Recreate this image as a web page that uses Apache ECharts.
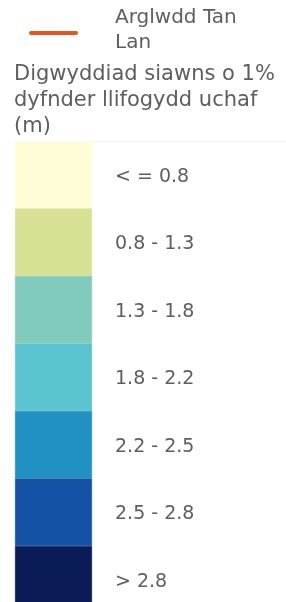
<!DOCTYPE html>
<html>
<head>
<meta charset="utf-8">
<script src="https://cdn.jsdelivr.net/npm/echarts@6/dist/echarts.min.js"></script>
<style>
  html, body { margin: 0; padding: 0; background: #fff; }
  #main { width: 286px; height: 602px; }
</style>
</head>
<body>
<div id="main"></div>
<script>
// dosbarthiadau dyfnder (m)
const categories = ['< = 0.8', '0.8 - 1.3', '1.3 - 1.8', '1.8 - 2.2', '2.2 - 2.5', '2.5 - 2.8', '> 2.8'];
const bandColors = ['#fffdd8', '#d8e193', '#80cbbb', '#5bc2cf', '#2191c3', '#1452a6', '#0a1b55'];
const bandValues = [1, 1, 1, 1, 1, 1, 1];
const lineName = 'Arglwdd Tan\nLan';
const titleText = 'Digwyddiad siawns o 1%\ndyfnder llifogydd uchaf\n(m)';

var myChart = echarts.init(document.getElementById('main'));

var font = 'DejaVu Sans';
var textColor = '#5e5e5e';

var option = {
  backgroundColor: '#fff',
  animation: false,
  title: {
    text: titleText,
    left: 9,
    top: 57,
    textStyle: { fontFamily: font, fontSize: 21, fontWeight: 'normal', color: textColor, lineHeight: 26 }
  },
  grid: { left: 15, top: 141, width: 77, height: 472.5, outerBoundsMode: 'none' },
  xAxis: { type: 'value', min: 0, max: 1, show: false },
  yAxis: { type: 'category', data: categories, inverse: true, show: false },
  graphic: [
    {
      type: 'line',
      shape: { x1: 31, y1: 33, x2: 76, y2: 33 },
      style: { stroke: '#e8531f', lineWidth: 4, lineCap: 'round' }
    },
    {
      type: 'text',
      left: 115, top: 5,
      style: { text: lineName, fontFamily: font, fontSize: 20, fill: textColor, lineHeight: 25 }
    },
    {
      type: 'line',
      shape: { x1: 92, y1: 141.5, x2: 286, y2: 141.5 },
      style: { stroke: '#f2f2f2', lineWidth: 1 }
    }
  ],
  series: [
    {
      type: 'bar',
      data: bandValues.map(function (v, i) {
        return { value: v, itemStyle: { color: bandColors[i], borderWidth: 0.5, borderColor: bandColors[i] } };
      }),
      barWidth: '100%',
      barCategoryGap: 0,
      label: {
        show: true,
        position: 'right',
        distance: 23,
        offset: [0, 2],
        formatter: function (p) { return categories[p.dataIndex]; },
        fontFamily: font,
        fontSize: 19,
        color: textColor
      }
    }
  ]
};

myChart.setOption(option);
</script>
</body>
</html>
